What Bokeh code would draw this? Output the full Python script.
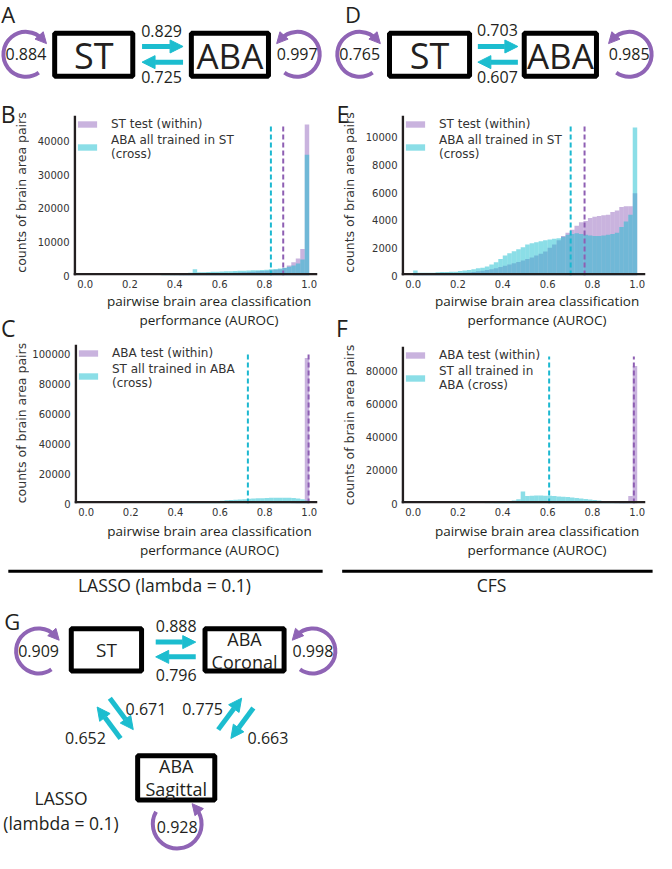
import numpy as np
from bokeh.plotting import figure
from bokeh.models import (Range1d, Arrow, NormalHead, FixedTicker,
                          NumeralTickFormatter, Legend)
from bokeh.layouts import column, row
from bokeh.embed import file_html
from bokeh.resources import INLINE
from bokeh.core.properties import value

# ------------------------------------------------------------------ data
bin_edges = np.round(np.linspace(0.0, 1.0, 51), 4)
x_ticks = [0.0, 0.2, 0.4, 0.6, 0.8, 1.0]

# panel B : LASSO, models trained in ST
B_within = [0, 0, 0, 0, 0, 0, 0, 0, 0, 0,
            0, 0, 0, 0, 0, 0, 10, 20, 30, 50,
            80, 120, 160, 200, 260, 320, 380, 440, 500, 560,
            620, 690, 760, 830, 900, 980, 1060, 1150, 1250, 1350,
            1450, 1600, 1750, 1900, 2200, 2950, 3950, 5100, 7900, 45000]
B_cross = [0, 0, 0, 0, 0, 0, 0, 0, 0, 0,
           0, 0, 0, 0, 0, 0, 0, 150, 250, 350,
           450, 550, 700, 850, 1900, 950, 1000, 1050, 1100, 1150,
           1200, 1250, 1300, 1350, 1400, 1450, 1500, 1550, 1600, 1650,
           1750, 1850, 1950, 2100, 2300, 2600, 3000, 3600, 4800, 36000]
B_yticks = [0, 10000, 20000, 30000, 40000]
B_ymax = 47700

# panel C : LASSO, models trained in ABA
C_within = [0] * 46 + [100, 300, 1500, 97500]
C_cross = [0, 0, 0, 0, 0, 0, 0, 0, 0, 0,
           0, 0, 0, 0, 20, 40, 60, 100, 150, 200,
           300, 400, 520, 650, 800, 950, 1100, 1300, 1500, 1700,
           1900, 2100, 2300, 2500, 2700, 2900, 3100, 3300, 3450, 3600,
           3700, 3800, 3850, 3900, 3900, 3850, 3700, 3400, 2900, 2000]
C_yticks = [0, 20000, 40000, 60000, 80000, 100000]
C_ymax = 106500

# panel E : CFS, models trained in ST
E_within = [30, 40, 50, 60, 70, 80, 90, 100, 120, 140,
            160, 190, 220, 260, 300, 350, 400, 460, 530, 610,
            700, 790, 880, 980, 1080, 1190, 1310, 1440, 1580, 1730,
            2000, 2250, 2550, 2850, 3100, 3300, 3600, 3850, 3950, 4150,
            4250, 4300, 4350, 4400, 4600, 4700, 4950, 5000, 5000, 5950]
E_cross = [360, 200, 190, 190, 200, 230, 250, 260, 270, 280,
           320, 360, 400, 460, 520, 560, 650, 800, 950, 1200,
           1450, 1600, 1750, 1900, 2050, 2250, 2330, 2400, 2480, 2550,
           2600, 2650, 2700, 2800, 2950, 3000, 3050, 3000, 2950, 2900,
           2850, 2850, 2900, 2950, 3000, 3100, 3500, 3900, 4400, 10700]
E_yticks = [0, 2000, 4000, 6000, 8000, 10000]
E_ymax = 11570

# panel F : CFS, models trained in ABA
F_within = [0] * 45 + [100, 400, 1500, 4500, 83000]
F_cross = [0, 0, 0, 0, 0, 0, 0, 0, 0, 0,
           0, 0, 0, 10, 30, 60, 120, 220, 380, 600,
           900, 1300, 1800, 2500, 7300, 4500, 4700, 4800, 4800, 4750,
           4650, 4500, 4300, 4100, 3850, 3600, 3300, 3000, 2700, 2400,
           2100, 1800, 1500, 1200, 950, 700, 500, 300, 150, 80]
F_yticks = [0, 20000, 40000, 60000, 80000]
F_ymax = 94800

# diagram values (self = within-dataset, cross = between datasets)
A_self = [0.884, 0.997]          # ST, ABA
A_cross = [0.829, 0.725]         # ST->ABA, ABA->ST
D_self = [0.765, 0.985]
D_cross = [0.703, 0.607]
G_self = [0.909, 0.998, 0.928]   # ST, ABA Coronal, ABA Sagittal
G_cross = [0.888, 0.796, 0.671, 0.652, 0.775, 0.663]

legend_B = ["ST test (within)", "ABA all trained in ST\n(cross)"]
legend_C = ["ABA test (within)", "ST all trained in ABA\n(cross)"]
legend_F = ["ABA test (within)", "ST all trained in\nABA (cross)"]
x_label = ["pairwise brain area classification", "performance (AUROC)"]
y_label = "counts of brain area pairs"

# ------------------------------------------------------------------ style
PURPLE = "#9467bd"
CYAN = "#17becf"
LOOP = "#8f64b5"
ARROW = "#1cbdcf"
DASH_C = "#1bb8d0"
DASH_P = "#8e5fb3"
FONT = "Open Sans"
MPL = "DejaVu Sans"
INK = "#231f20"
GREY = "#333333"

W = 656


def fmt(v):
    return "%.3f" % v


# ------------------------------------------------------------------ helpers
def pane(width, height, x0, x1, y0, y1):
    p = figure(width=width, height=height, x_range=Range1d(x0, x1),
               y_range=Range1d(-y1, -y0), output_backend="svg",
               toolbar_location=None, x_axis_location=None, y_axis_location=None,
               min_border=0)
    p.grid.visible = False
    p.outline_line_color = None
    p.background_fill_color = "white"
    p.border_fill_color = "white"
    return p


def txt(p, x, y, s, size="16px", align="center", color=INK, font=FONT, angle=0.0):
    p.text(x=[x], y=[-y], text=[s], text_align=align, text_baseline="middle",
           text_font=value(font), text_font_size=size, text_color=color, angle=angle)


def box(p, l, r, t, b, lw=5):
    h = lw / 2.0
    p.quad(left=[l + h], right=[r - h], top=[-(t + h)], bottom=[-(b - h)],
           fill_color="white", line_color="black", line_width=lw)


def loop(p, cx, cy, r, a0, a1, head_at_end, label, ty=None):
    p.arc(x=[cx], y=[-cy], radius=r, start_angle=np.radians(a0),
          end_angle=np.radians(a1), direction="anticlock",
          line_color=LOOP, line_width=4)
    th = np.radians(a1 if head_at_end else a0)
    ex, ey = cx + r * np.cos(th), -cy + r * np.sin(th)
    if head_at_end:
        tx, tyy = -np.sin(th), np.cos(th)
    else:
        tx, tyy = np.sin(th), -np.cos(th)
    p.add_layout(Arrow(end=NormalHead(size=11, fill_color=LOOP, line_color=LOOP, line_width=1),
                       x_start=ex - 2 * tx, y_start=ey - 2 * tyy,
                       x_end=ex + 6 * tx, y_end=ey + 6 * tyy,
                       line_color=LOOP, line_width=4))
    txt(p, cx, ty if ty is not None else cy, label)


def carrow(p, x0, y0, x1, y1):
    p.add_layout(Arrow(end=NormalHead(size=13, fill_color=ARROW, line_color=ARROW, line_width=1),
                       x_start=x0, y_start=-y0, x_end=x1, y_end=-y1,
                       line_color=ARROW, line_width=5))


# ------------------------------------------------------------------ row 1 : A and D
top = pane(W, 90, 0, 672, 0, 92)
txt(top, 8, 13.5, "A", "22px")
box(top, 53, 138, 31, 80)
box(top, 193, 277, 31, 80)
txt(top, 95.5, 56, "ST", "36px")
txt(top, 235, 56, "ABA", "35px")
loop(top, 26, 55, 23, 42, 305, False, fmt(A_self[0]))
loop(top, 304, 55, 23, 235, 498, True, fmt(A_self[1]))
carrow(top, 145, 47, 187, 47)
carrow(top, 187, 63, 145, 63)
txt(top, 165, 31, fmt(A_cross[0]))
txt(top, 165, 78.5, fmt(A_cross[1]))

txt(top, 361, 13.5, "D", "22px")
box(top, 396, 483, 31, 80)
box(top, 534, 613, 31, 80)
txt(top, 439.5, 56, "ST", "36px")
txt(top, 573.5, 56, "ABA", "35px")
loop(top, 368, 55, 23, 42, 305, False, fmt(D_self[0]))
loop(top, 644, 55, 23, 235, 498, True, fmt(D_self[1]))
carrow(top, 489, 47, 530, 47)
carrow(top, 530, 63, 489, 63)
txt(top, 509, 30, fmt(D_cross[0]))
txt(top, 509, 78.5, fmt(D_cross[1]))


# ------------------------------------------------------------------ histogram helper
XR = (-0.052, 1.037)
HIST_W = 299
FRAME_W = 244


def hist_panel(within, cross, m_w, m_c, ymax, yticks, labels, H, btop, fh):
    p = figure(width=HIST_W, height=H, x_range=Range1d(*XR),
               y_range=Range1d(0, ymax), output_backend="svg",
               toolbar_location=None, min_border_left=44, min_border_right=11,
               min_border_top=btop, min_border_bottom=H - btop - fh)
    left = bin_edges[:-1]
    right = bin_edges[1:]
    r1 = p.quad(left=left, right=right, bottom=0, top=within,
                fill_color=PURPLE, fill_alpha=0.5, line_color=None)
    r2 = p.quad(left=left, right=right, bottom=0, top=cross,
                fill_color=CYAN, fill_alpha=0.5, line_color=None)
    # dashed mean lines (stop a little below the top of the axes)
    ytop = ymax * (1 - 10.0 / fh)
    p.segment(x0=[m_c], y0=[0], x1=[m_c], y1=[ytop], line_color=DASH_C,
              line_width=2, line_dash="5 3")
    p.segment(x0=[m_w], y0=[0], x1=[m_w], y1=[ytop], line_color=DASH_P,
              line_width=2, line_dash="5 3")
    # spines (left and bottom), kept just inside the frame
    dx = (XR[1] - XR[0]) / FRAME_W
    dy = ymax / float(fh)
    p.segment(x0=[XR[0] + 1.3 * dx, XR[0]], y0=[0, 1.3 * dy],
              x1=[XR[0] + 1.3 * dx, XR[1]], y1=[ymax, 1.3 * dy],
              line_color=INK, line_width=2.6)
    leg = Legend(items=[(labels[0], [r1]), (labels[1], [r2])],
                 location="top_left", border_line_color=None,
                 background_fill_alpha=0, margin=2, padding=7, spacing=2,
                 glyph_width=24, glyph_height=8, label_standoff=12,
                 label_text_font=MPL, label_text_font_size="12px",
                 label_text_color=GREY, label_height=14)
    p.add_layout(leg)
    p.grid.visible = False
    p.outline_line_color = None
    p.background_fill_color = "white"
    p.border_fill_color = "white"
    p.xaxis.ticker = FixedTicker(ticks=x_ticks)
    p.xaxis.formatter = NumeralTickFormatter(format="0.0")
    p.yaxis.ticker = FixedTicker(ticks=yticks)
    p.yaxis.formatter = NumeralTickFormatter(format="0")
    for ax in (p.xaxis[0], p.yaxis[0]):
        ax.axis_line_color = None
        ax.major_tick_line_color = None
        ax.minor_tick_line_color = None
        ax.major_tick_out = 0
        ax.major_tick_in = 0
        ax.minor_tick_out = 0
        ax.minor_tick_in = 0
        ax.major_label_text_font = MPL
        ax.major_label_text_font_size = "10px"
        ax.major_label_text_color = GREY
        ax.major_label_standoff = 4
    return p


def gutter(H, y0, y1, items, ylab_x, ylab_y):
    g = pane(29, H, 0, 30, y0, y1)
    for (lt, lx, ly) in items:
        txt(g, lx, ly, lt, "23px")
    txt(g, ylab_x, ylab_y, y_label, "12.5px", color=GREY, font=MPL, angle=np.pi / 2)
    return g


def strip(H, y0, y1, ys):
    s = pane(HIST_W, H, 0, 306, y0, y1)
    for lab, yy in zip(x_label, ys):
        txt(s, 170, yy, lab, "13.5px")
    return s


# row 2 : B and E  (reference rows 92..350)
pB = hist_panel(B_within, B_cross, A_self[0], A_cross[0], B_ymax, B_yticks,
                legend_B, 202, 25, 160)
pE = hist_panel(E_within, E_cross, D_self[0], D_cross[0], E_ymax, E_yticks,
                legend_B, 202, 25, 160)
sB = strip(51, 298, 350, [307, 326])
sE = strip(51, 298, 350, [307, 326])
gB = gutter(253, 92, 350, [("B", 8, 116), ("C", 8, 334)], 21.5, 196)
gE = gutter(253, 92, 350, [("E", 15, 116), ("F", 14, 334)], 21.5, 196)

# row 3 : C and F  (reference rows 350..572)
pC = hist_panel(C_within, C_cross, A_self[1], A_cross[1], C_ymax, C_yticks,
                legend_C, 180, 1, 159)
pF = hist_panel(F_within, F_cross, D_self[1], D_cross[1], F_ymax, F_yticks,
                legend_F, 180, 3, 157)
sC = strip(38, 533, 572, [541, 560])
sF = strip(38, 533, 572, [541, 560])
gC = gutter(218, 350, 572, [], 21.5, 431)
gF = gutter(218, 350, 572, [], 21.5, 433)

# ------------------------------------------------------------------ row 4 : dividers + G
bot = pane(W, 292, 0, 672, 572, 869)
bot.segment(x0=[8, 350], y0=[-582, -582], x1=[330, 668], y1=[-582, -582],
            line_color="black", line_width=3)
txt(bot, 168, 596, "LASSO (lambda = 0.1)", "17.5px")
txt(bot, 503, 596, "CFS", "17.5px")
txt(bot, 12, 633, "G", "22px")
box(bot, 70, 147, 638, 686)
box(bot, 207, 293, 638, 686)
box(bot, 138, 222, 767, 817)
txt(bot, 108.5, 662, "ST", "19px")
txt(bot, 250, 651, "ABA", "18px")
txt(bot, 250, 674, "Coronal", "18px")
txt(bot, 180, 780, "ABA", "18px")
txt(bot, 180, 803, "Sagittal", "18px")
loop(bot, 39, 663, 23, 42, 305, False, fmt(G_self[0]))
loop(bot, 320, 663, 23, 235, 498, True, fmt(G_self[1]))
loop(bot, 181, 839, 25, 150, 400, True, fmt(G_self[2]), ty=842)
carrow(bot, 159, 654, 200, 654)
carrow(bot, 200, 669, 159, 669)
carrow(bot, 112, 711, 136, 743)
carrow(bot, 123, 752, 99, 720)
carrow(bot, 223, 743, 247, 711)
carrow(bot, 259, 721, 236, 752)
txt(bot, 180, 638, fmt(G_cross[0]))
txt(bot, 180, 687, fmt(G_cross[1]))
txt(bot, 149, 722, fmt(G_cross[2]))
txt(bot, 87, 752, fmt(G_cross[3]))
txt(bot, 207, 722, fmt(G_cross[4]))
txt(bot, 274, 752, fmt(G_cross[5]))
txt(bot, 62, 813, "LASSO", "17.5px")
txt(bot, 62, 838, "(lambda = 0.1)", "17.5px")

layout = column(
    top,
    row(gB, column(pB, sB), gE, column(pE, sE)),
    row(gC, column(pC, sC), gF, column(pF, sF)),
    bot,
)
open("out.html", "w").write(file_html(layout, INLINE, title="figure"))
